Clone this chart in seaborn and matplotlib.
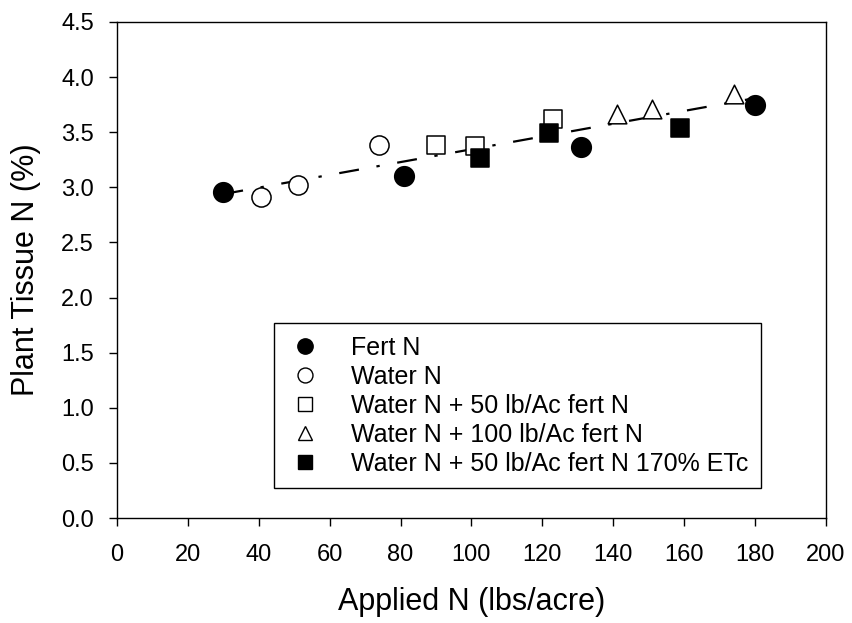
import numpy as np
import pandas as pd
import matplotlib
matplotlib.use("Agg")
import matplotlib.pyplot as plt
import seaborn as sns
from matplotlib.lines import Line2D

# ---- data ----
fert_x = [30, 81, 131, 180]
fert_y = [2.96, 3.10, 3.37, 3.75]
water_x = [40.5, 51, 74]
water_y = [2.91, 3.02, 3.385]
w50_x = [90, 101, 123]
w50_y = [3.385, 3.375, 3.62]
w100_x = [141, 151, 174]
w100_y = [3.665, 3.71, 3.85]
w50e_x = [102.5, 122, 159]
w50e_y = [3.27, 3.49, 3.535]

labels = ["Fert N", "Water N", "Water N + 50 lb/Ac fert N",
          "Water N + 100 lb/Ac fert N", "Water N + 50 lb/Ac fert N 170% ETc"]
xticks = [0, 20, 40, 60, 80, 100, 120, 140, 160, 180, 200]
yticks = [0.0, 0.5, 1.0, 1.5, 2.0, 2.5, 3.0, 3.5, 4.0, 4.5]

series = [
    (fert_x, fert_y, "o", "black", 200),
    (water_x, water_y, "o", "white", 190),
    (w50_x, w50_y, "s", "white", 160),
    (w100_x, w100_y, "^", "white", 180),
    (w50e_x, w50e_y, "s", "black", 160),
]

sns.set_theme(style="white")
plt.rcParams['font.family'] = ['Liberation Sans', 'DejaVu Sans']

fig = plt.figure(figsize=(8.53, 6.23), dpi=100)
ax = fig.add_axes([0.1372, 0.1685, 0.968 - 0.1372, 0.9647 - 0.1685])

frames = []
for (xs, ys, m, fc, s), lab in zip(series, labels):
    df = pd.DataFrame({"x": xs, "y": ys})
    frames.append(df)
    sns.scatterplot(data=df, x="x", y="y", marker=m, s=s, color=fc,
                    edgecolor="black", linewidth=1.1, ax=ax, zorder=3, legend=False)

alld = pd.concat(frames, ignore_index=True)
sns.regplot(data=alld, x="x", y="y", scatter=False, ci=None, ax=ax, truncate=True,
            line_kws=dict(color="black", lw=1.6, linestyle=(0, (9, 8, 1.5, 8))))

ax.set_xlim(0, 200)
ax.set_ylim(0, 4.5)
ax.set_xticks(xticks)
ax.set_yticks(yticks)
ax.set_xticklabels([str(t) for t in xticks])
ax.set_yticklabels([f"{t:.1f}" for t in yticks])
ax.tick_params(axis="both", which="major", labelsize=17, direction="out",
               length=5.5, width=1.0, color="black", labelcolor="black",
               bottom=True, left=True, top=False, right=False)
ax.tick_params(axis="x", pad=13)
ax.tick_params(axis="y", pad=11)
for sp in ax.spines.values():
    sp.set_color("black")
    sp.set_linewidth(1.0)
ax.set_xlabel("Applied N (lbs/acre)", fontsize=22, color="black", labelpad=15)
ax.set_ylabel("Plant Tissue N (%)", fontsize=22, color="black", labelpad=15)

handles = []
for (xs, ys, m, fc, s), lab in zip(series, labels):
    handles.append(Line2D([], [], linestyle="none", marker=m, markersize=np.sqrt(s) * 0.78,
                          markerfacecolor=fc, markeredgecolor="black", markeredgewidth=1.0,
                          label=lab))
leg = ax.legend(handles=handles, loc="upper left", bbox_to_anchor=(0.221, 0.393),
                fontsize=18, frameon=True, fancybox=False, shadow=False,
                framealpha=1, edgecolor="black", labelspacing=0.2,
                handletextpad=1.1, borderpad=0.5, borderaxespad=0, handlelength=1.5)
leg.get_frame().set_linewidth(1.0)
for t in leg.get_texts():
    t.set_color("black")

fig.savefig("out.png", dpi=100)
